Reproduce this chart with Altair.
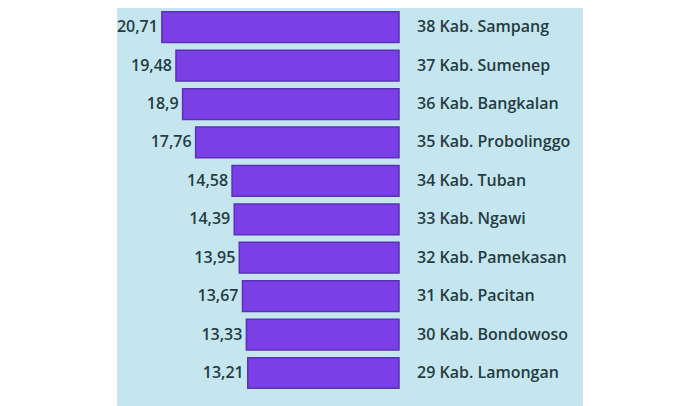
import altair as alt
import pandas as pd

ranks = [38, 37, 36, 35, 34, 33, 32, 31, 30, 29]
names = ["Kab. Sampang", "Kab. Sumenep", "Kab. Bangkalan", "Kab. Probolinggo",
         "Kab. Tuban", "Kab. Ngawi", "Kab. Pamekasan", "Kab. Pacitan",
         "Kab. Bondowoso", "Kab. Lamongan"]
values = [20.71, 19.48, 18.9, 17.76, 14.58, 14.39, 13.95, 13.67, 13.33, 13.21]
value_labels = ["20,71", "19,48", "18,9", "17,76", "14,58", "14,39", "13,95",
                "13,67", "13,33", "13,21"]

df = pd.DataFrame({
    "name": [f"{r} {n}" for r, n in zip(ranks, names)],
    "value": values,
    "vlabel": value_labels,
    "zero": [0] * len(values),
})
order = list(df["name"])

xs = alt.Scale(domain=[-16.07, 24.63], reverse=True, nice=False, zero=False)
ys = alt.Scale(domain=order, paddingInner=0.2, paddingOuter=0.28, align=0.18)

base = alt.Chart(df).encode(
    y=alt.Y("name:N", scale=ys, axis=None, sort=order)
)

bars = base.mark_bar(color="#7b3fe6", stroke="#5a32b8", strokeWidth=1.5).encode(
    x=alt.X("value:Q", scale=xs, axis=None),
    x2="zero:Q",
)

vals = base.mark_text(align="right", baseline="middle", dx=-4, font="Open Sans",
                      fontSize=16, fontWeight=600, color="#263c42").encode(
    x=alt.X("value:Q", scale=xs, axis=None),
    text="vlabel:N",
)

names_txt = base.mark_text(align="left", baseline="middle", dx=18, font="Open Sans",
                           fontSize=16, fontWeight=600, color="#263c42").encode(
    x=alt.X("zero:Q", scale=xs, axis=None),
    text="name:N",
)

chart = alt.layer(bars, vals, names_txt).properties(
    width=466, height=398,
    padding={"left": 108, "top": 0, "right": 0, "bottom": 0},
    background="white",
).configure_view(fill="#c5e6ef", stroke=None)

chart.save("out.html", embed_options={"renderer": "svg", "actions": False})
